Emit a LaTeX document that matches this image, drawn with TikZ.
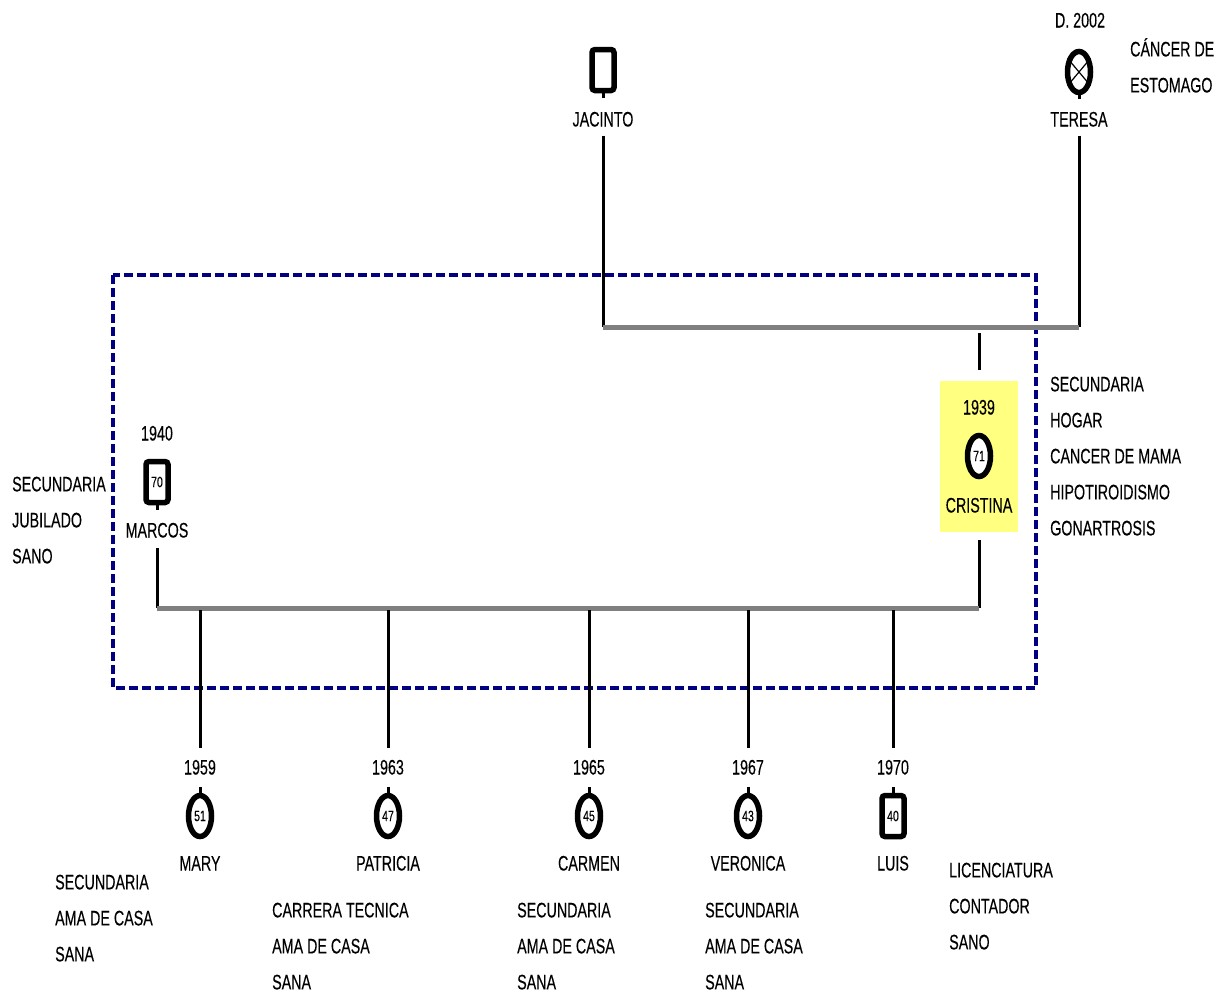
\documentclass[tikz,border=0pt]{standalone}
\usepackage{fontspec}
\setmainfont{Liberation Sans}[FakeBold=0.3]
\usepackage{graphicx}
\usetikzlibrary{shapes.geometric}
\newcommand\ct[1]{\scalebox{0.68}[1]{#1}}
\newcommand\cn[1]{\scalebox{0.7}[1]{#1}}
\definecolor{navyb}{RGB}{0,0,128}
\definecolor{gline}{RGB}{128,128,128}
\definecolor{hl}{RGB}{255,255,128}
\begin{document}
\begin{tikzpicture}[x=1pt,y=-1pt,
 txt/.style={inner sep=0pt, text height=15pt, text depth=0pt, font=\fontsize{21}{36}\selectfont},
 blk/.style={inner sep=0pt, anchor=north west, align=left, font=\fontsize{21}{36}\selectfont},
 male/.style={draw, line width=5.5pt, rounded corners=3pt, minimum width=22pt, minimum height=41pt, inner sep=0pt, fill=white, font=\fontsize{15}{15}\selectfont},
 female/.style={draw, ellipse, line width=5.5pt, minimum width=23pt, minimum height=41pt, inner sep=0pt, fill=white, font=\fontsize{15}{15}\selectfont},
 kin/.style={line width=3pt},
 union/.style={line width=5pt, draw=gline},
 stub/.style={line width=3pt},
]
\useasboundingbox (0,0) rectangle (1228,996);

% household boundary
\draw[navyb, line width=4pt, dash pattern=on 9pt off 4pt] (113,275) rectangle (1036,688);

% highlight for Cristina
\fill[hl] (940,381) rectangle (1018,532);

% grandparents
\node[male] (jac) at (603,70) {};
\draw[stub] (jac.south) -- ++(0,5);
\node[txt] (jacL) at (603,119) {\ct{JACINTO}};

\node[female] (ter) at (1079,72) {};
\draw[stub] (ter.south) -- ++(0,4);
\draw[line width=1.2pt] (ter.130) -- (ter.-50) (ter.50) -- (ter.230);
\node[txt] (terY) at (1080,20) {\ct{D. 2002}};
\node[txt] (terL) at (1079,119) {\ct{TERESA}};
\node[blk] (terT) at (1130,38) {\ct{CÁNCER DE}\\\ct{ESTOMAGO}};

\coordinate (u1L) at (603,327);
\coordinate (u1R) at (1079,327);
\coordinate (u1C) at (979,327);
\draw[kin] (jacL.south) ++(0,9) -- (u1L);
\draw[kin] (terL.south) ++(0,9) -- (u1R);
\draw[union] (u1L) -- (u1R);

% Cristina
\node[txt] (criY) at (979,407) {\ct{1939}};
\node[female] (cri) at (979,456) {\cn{71}};
\node[txt] (criL) at (979,505) {\ct{CRISTINA}};
\draw[kin] (u1C) ++(0,6) -- (979,370);
\node[blk] (criT) at (1050,376.5) {\ct{SECUNDARIA}\\\ct{HOGAR}\\\ct{CANCER DE MAMA}\\\ct{HIPOTIROIDISMO}\\\ct{GONARTROSIS}};

% Marcos
\node[txt] (marY) at (157,433) {\ct{1940}};
\node[male] (mar) at (157,482) {\cn{70}};
\draw[stub] (mar.south) -- ++(0,5);
\node[txt] (marL) at (157,530) {\ct{MARCOS}};
\node[blk] (marT) at (12,476.5) {\ct{SECUNDARIA}\\\ct{JUBILADO}\\\ct{SANO}};

% couple line
\coordinate (u2L) at (157,608);
\coordinate (u2R) at (979,608);
\draw[kin] (157,548) -- (u2L);
\draw[kin] (979,540) -- (u2R);
\draw[union] (u2L) -- (u2R);

% children
\foreach \nm/\x/\yr/\ag/\sx/\lab in {mary/200/1959/51/female/MARY, pat/388/1963/47/female/PATRICIA, car/589/1965/45/female/CARMEN, ver/748/1967/43/female/VERONICA, luis/893/1970/40/male/LUIS}{
  \coordinate (\nm-top) at (\x,608);
  \draw[kin] (\nm-top) ++(0,2) -- (\x,748);
  \node[txt] (\nm-y) at (\x,767) {\ct{\yr}};
  \node[\sx] (\nm) at (\x,816) {\cn{\ag}};
  \draw[stub] (\nm.north) -- ++(0,-6);
  \node[txt] (\nm-l) at (\x,863) {\ct{\lab}};
}

\node[blk] (maryT) at (55,874.5) {\ct{SECUNDARIA}\\\ct{AMA DE CASA}\\\ct{SANA}};
\node[blk] (patT) at (272,902.5) {\ct{CARRERA TECNICA}\\\ct{AMA DE CASA}\\\ct{SANA}};
\node[blk] (carT) at (517,902.5) {\ct{SECUNDARIA}\\\ct{AMA DE CASA}\\\ct{SANA}};
\node[blk] (verT) at (705,902.5) {\ct{SECUNDARIA}\\\ct{AMA DE CASA}\\\ct{SANA}};
\node[blk] (luisT) at (949,862.5) {\ct{LICENCIATURA}\\\ct{CONTADOR}\\\ct{SANO}};
\end{tikzpicture}
\end{document}
